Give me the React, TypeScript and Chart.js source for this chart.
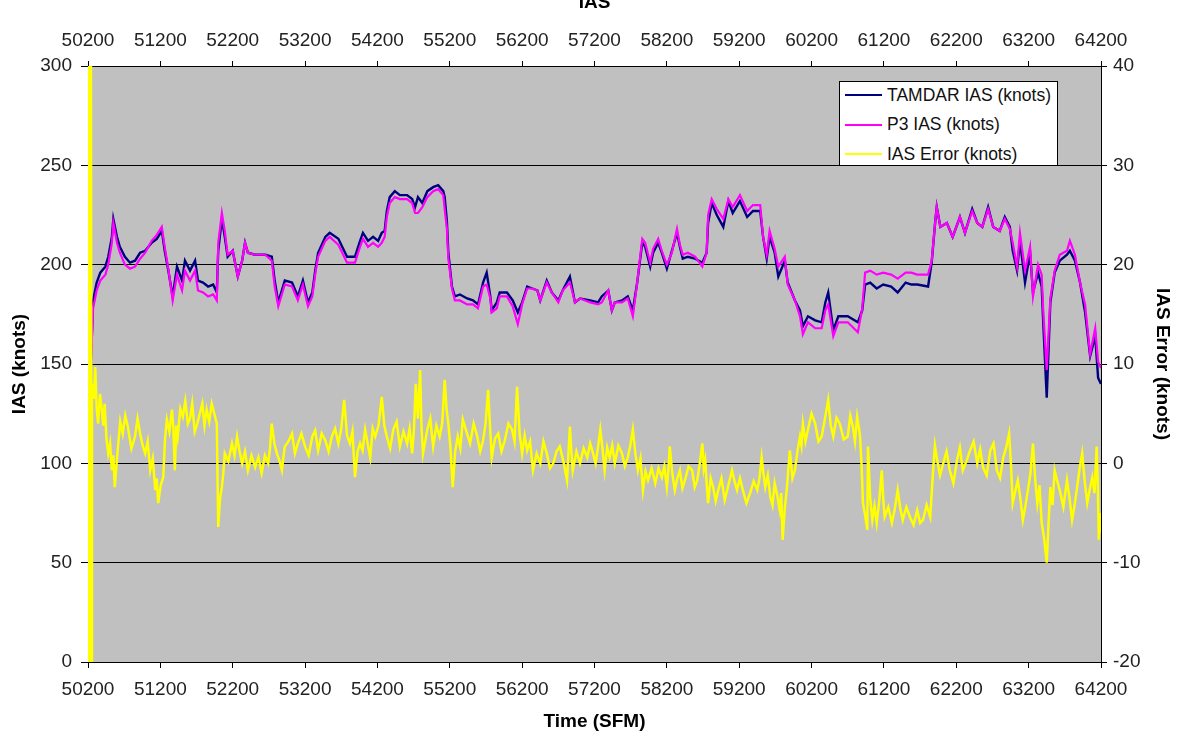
import React, { useEffect, useRef } from 'react';
import { Chart, registerables } from 'chart.js';

Chart.register(...registerables);

// Time (SFM) for the IAS series
const iasTime = [
  50200, 50210, 50240, 50270, 50320, 50370, 50440, 50480, 50530, 50550, 50600, 50640, 50710, 50780, 50850, 50920, 50990,
  51080, 51150, 51220, 51260, 51310, 51370, 51430, 51500, 51540, 51610, 51680, 51720, 51790, 51860, 51930, 51980,
  52000, 52050, 52090, 52130, 52200, 52270, 52330, 52370, 52410, 52510, 52650, 52740, 52780, 52830, 52920,
  53020, 53100, 53170, 53240, 53300, 53340, 53380, 53480, 53540, 53660, 53780, 53890, 53960,
  54000, 54070, 54140, 54210, 54260, 54300, 54330, 54370, 54440, 54510, 54610, 54680, 54720, 54760, 54820, 54890, 54970,
  55040, 55110, 55130, 55160, 55180, 55230, 55270, 55340, 55440, 55520, 55590, 55660, 55710, 55760, 55780, 55850, 55890, 55990,
  56070, 56140, 56200, 56270, 56340, 56410, 56450, 56540, 56610, 56700, 56760, 56860, 56930,
  57000, 57140, 57250, 57300, 57390, 57440, 57480, 57580, 57660, 57730, 57790, 57860, 57900, 57970,
  58010, 58080, 58130, 58200, 58270, 58340, 58380, 58420, 58490, 58590, 58690, 58750, 58770, 58820, 58890, 58980,
  59050, 59110, 59210, 59310, 59390, 59490, 59530, 59580, 59620, 59690, 59740, 59830, 59870, 59970,
  60040, 60080, 60150, 60250, 60340, 60390, 60430, 60500, 60570, 60700, 60840, 60900, 60940,
  61010, 61100, 61190, 61300, 61390, 61500, 61580, 61660, 61810, 61860, 61910, 61930, 61980,
  62070, 62150, 62250, 62320, 62420, 62490, 62560, 62640, 62710, 62800, 62870, 62940, 62980,
  63040, 63080, 63150, 63220, 63260, 63330, 63380, 63400, 63450, 63500, 63560, 63630, 63730, 63770, 63840, 63910, 63980,
  64050, 64120, 64160, 64200,
];

const tamdarIas = [
  0, 73, 150, 182, 191, 196, 199, 204, 214, 223, 214, 209, 204, 201, 202, 206, 207,
  211, 213, 217, 207, 197, 184, 199, 192, 202, 197, 202, 192, 191, 189, 190, 186,
  207, 223, 214, 204, 207, 194, 202, 211, 206, 205, 205, 204, 192, 181, 192,
  191, 184, 192, 181, 186, 197, 206, 214, 216, 213, 204, 204, 212,
  216, 212, 214, 212, 216, 217, 227, 234, 237, 235, 235, 233, 229, 234, 231, 237, 239,
  240, 237, 234, 222, 206, 189, 184, 185, 183, 182, 180, 191, 196, 184, 177, 181, 186, 186,
  182, 176, 181, 189, 188, 187, 182, 192, 186, 182, 187, 194, 181,
  183, 182, 181, 184, 187, 177, 181, 182, 184, 177, 191, 211, 209, 199,
  206, 211, 206, 198, 207, 216, 209, 203, 204, 203, 201, 206, 221, 231, 225, 219,
  232, 226, 232, 224, 227, 227, 214, 203, 214, 206, 194, 202, 191, 182,
  177, 169, 174, 172, 171, 181, 186, 167, 174, 174, 171, 177, 190,
  191, 188, 190, 189, 186, 191, 190, 190, 189, 201, 222, 229, 219,
  221, 214, 224, 216, 228, 221, 219, 229, 219, 217, 224, 219, 207,
  197, 212, 191, 206, 186, 196, 189, 172, 133, 181, 196, 202, 205, 207, 202, 191, 176,
  154, 164, 143, 140,
];

const p3Ias = [
  0, 73, 150, 178, 187, 192, 195, 200, 211, 221, 211, 206, 200, 198, 199, 203, 206,
  212, 215, 219, 209, 198, 182, 195, 187, 197, 192, 197, 187, 186, 184, 185, 182,
  211, 226, 217, 205, 207, 194, 202, 211, 206, 205, 205, 202, 189, 179, 190,
  189, 182, 190, 179, 184, 195, 204, 212, 214, 210, 201, 201, 209,
  213, 209, 211, 209, 211, 214, 224, 231, 234, 233, 233, 231, 226, 226, 229, 234, 237,
  238, 235, 228, 218, 203, 188, 182, 182, 180, 180, 178, 189, 190, 183, 176, 178, 184, 184,
  179, 170, 180, 188, 188, 187, 182, 191, 186, 181, 187, 191, 181,
  183, 181, 180, 181, 187, 177, 181, 181, 183, 174, 191, 213, 211, 201,
  208, 213, 207, 200, 206, 218, 210, 205, 206, 204, 199, 206, 225, 233, 228, 223,
  233, 229, 235, 227, 230, 230, 214, 205, 217, 208, 199, 204, 190, 182,
  174, 165, 171, 168, 168, 177, 180, 164, 171, 171, 166, 178, 196,
  197, 195, 196, 195, 193, 196, 196, 195, 195, 202, 222, 229, 219,
  221, 214, 224, 216, 227, 221, 219, 228, 219, 217, 223, 218, 211,
  199, 216, 197, 209, 184, 200, 195, 178, 147, 183, 197, 205, 207, 212, 205, 191, 180,
  155, 168, 151, 148,
];

// Time (SFM) for the IAS error series
const errTime = [
  50200, 50210, 50220, 50230, 50240, 50250,
  50255, 50260, 50280, 50300, 50320, 50340, 50365, 50390, 50410, 50430, 50455, 50480, 50505, 50530, 50550, 50570, 50590, 50610,
  50645, 50680, 50715, 50750, 50800, 50850, 50885, 50920, 50955, 50990, 51025, 51060, 51095, 51130, 51150, 51170, 51205, 51240,
  51265, 51290, 51325, 51360, 51380, 51400, 51420, 51440, 51475, 51510, 51545, 51580, 51610, 51640, 51675, 51710, 51745, 51780,
  51810, 51840, 51875, 51910, 51945, 51980,
  52000, 52025, 52050, 52070, 52090, 52140, 52190, 52225, 52260, 52295, 52330, 52370, 52410, 52460, 52510, 52555, 52600, 52645,
  52690, 52715, 52740, 52775, 52810, 52845, 52880, 52900, 52920, 52970,
  53020, 53060, 53100, 53150, 53200, 53250, 53300, 53340, 53380, 53430, 53480, 53525, 53570, 53615, 53660, 53700, 53740, 53780,
  53820, 53855, 53890, 53925, 53960, 53995,
  54030, 54065, 54100, 54135, 54170, 54215, 54260, 54295, 54330, 54375, 54420, 54465, 54510, 54560, 54610, 54645, 54680, 54705,
  54730, 54760, 54790, 54810, 54830, 54860, 54890, 54930, 54970,
  55015, 55060, 55095, 55130, 55155, 55180, 55210, 55240, 55275, 55310, 55345, 55380, 55430, 55480, 55530, 55580, 55620, 55660,
  55695, 55730, 55755, 55780, 55825, 55870, 55915, 55960,
  56010, 56060, 56095, 56130, 56165, 56200, 56235, 56270, 56310, 56350, 56400, 56450, 56495, 56540, 56585, 56630, 56675, 56720,
  56770, 56820, 56840, 56860, 56880, 56900, 56950,
  57000, 57050, 57100, 57140, 57180, 57215, 57250, 57280, 57310, 57340, 57375, 57410, 57445, 57480, 57530, 57580, 57620, 57660,
  57695, 57730, 57765, 57800, 57835, 57870, 57905, 57940, 57990,
  58040, 58085, 58130, 58165, 58200, 58220, 58240, 58275, 58310, 58345, 58380, 58415, 58450, 58500, 58550, 58585, 58620, 58655,
  58690, 58710, 58730, 58750, 58770, 58805, 58840, 58875, 58910, 58955,
  59000, 59050, 59100, 59135, 59170, 59210, 59250, 59300, 59350, 59400, 59450, 59480, 59510, 59535, 59560, 59595, 59630, 59660,
  59690, 59725, 59760, 59780, 59800, 59830, 59860, 59880, 59900, 59935, 59970,
  60005, 60040, 60060, 60080, 60115, 60150, 60200, 60250, 60295, 60340, 60385, 60430, 60465, 60500, 60545, 60590, 60645, 60700,
  60735, 60770, 60800, 60830, 60850, 60870, 60890, 60910, 60940, 60970, 60980,
  61010, 61040, 61070, 61100, 61135, 61170, 61190, 61210, 61260, 61310, 61350, 61390, 61425, 61460, 61510, 61560, 61610, 61660,
  61700, 61740, 61790, 61840, 61860, 61880, 61905, 61930, 61975,
  62020, 62065, 62110, 62160, 62210, 62250, 62290, 62340, 62390, 62440, 62490, 62530, 62570, 62620, 62670, 62715, 62760, 62805,
  62850, 62890, 62930, 62955, 62980,
  63015, 63050, 63085, 63120, 63155, 63190, 63225, 63260, 63290, 63320, 63350, 63380, 63415, 63450, 63475, 63500, 63530, 63560,
  63595, 63630, 63680, 63730, 63765, 63800, 63835, 63870, 63905, 63940, 63975,
  64010, 64045, 64080, 64110, 64140, 64155, 64170, 64185, 64200,
];

const iasError = [
  45, -25, 45, -25, 45, -25,
  6, 8, 6.5, 9.7, 5.5, 4, 7, 5.4, 3.8, 6, 2.5, 1, 2, -0.7, 0.8, -2.4, -0.5, 1.3,
  4.2, 3, 4.8, 3.7, 1.5, 2.7, 4.5, 3, 1.8, 1, 2.2, -0.7, 0.5, -2.7, -1.5, -4, -2.2, -1.4,
  2.5, 4.4, 3.2, 5.4, 3.5, -0.7, 3.8, 2.7, 5.5, 4.7, 6.3, 4, 4.5, 6, 3.2, 4, 5, 6,
  3.8, 5.4, 4.2, 6, 5, 4,
  -6.4, -3.5, -2.4, -1, 1, 0.2, 2, 0.8, 2.7, 1.2, 0, 1.2, -0.7, 0.8, -0.4, 0.6, -1, 0.8,
  0, 1.5, 4, 2, 1, 0.3, -0.7, 0.6, 1.7, 2.2,
  3, 1, 2, 3, 1.7, 0.8, 2.7, 3.3, 1.3, 3, 2.3, 1.2, 2.7, 3.5, 2, 3.5, 6.4, 2.8,
  2, 3.2, -1.4, 1.2, 2, 1.3,
  3.4, 2, 0.6, 3.5, 2.7, 3.8, 6.7, 3.8, 2.7, 1.5, 3.4, 4.2, 1.7, 3.2, 2, 3.5, 1, 3.5,
  8, 4.5, 9.4, 3.5, 1, 2.2, 3.4, 4.5, 1.7,
  3.8, 2.7, 4, 8.4, 5.5, 4, 1.5, -2.4, 1.2, 2.7, 1.5, 4.4, 3.2, 2, 4, 2.7, 1.2, 2.3,
  4, 7.4, 3.8, 0.6, 2.5, 3, 1.2, 2.3,
  4, 3.4, 2.2, 7.7, 3, 1, 2.8, 1.3, 2.2, -0.7, 1, 0, 2.2, 1, -0.5, 0, 1.2, 1.7,
  0.2, -1.7, 1, 3.7, 1.2, -0.7, 1.2,
  0, 1.5, 0.6, 2, 1, 0, 1.7, 3.4, 1.5, -0.7, 1.6, 0.6, 1.8, 0, 1.8, 1, -0.3, 0.6,
  1.8, 3.4, 1, -0.7, 0.5, -2.7, -0.8, -1.7, -0.5,
  -2, -0.5, -1.4, -0.3, -2.4, -0.8, 1.7, -1, -2.7, -1.5, -0.7, -2.5, -1.7, -0.3, -0.7, -2.4, -1.7, 0,
  2, -0.5, 0.3, -2, -4, -1.5, -2.4, -3.8, -2.7, -1.5,
  -3.7, -2.2, -0.7, -1.8, -2.7, -1.5, -2.7, -4, -3, -1.8, -2.7, -1.5, 0.6, -1, -2.4, -1.2, -3.4, -4.2,
  -2, -3.2, -4.7, -3, -7.7, -4.5, -2.4, -0.5, 1.3, -1.5, -0.7,
  1.2, 2.7, 1.8, 4, 2.2, 3.4, 5, 4, 2.2, 2.7, 4.5, 6.4, 3.8, 2.7, 4.6, 4, 2.4, 2.7,
  4.8, 3.7, 2.2, 4.7, 3.8, 2.7, 0, -4, -5.2, -6.7, 1.7,
  -3.5, -5.7, -4.3, -6, -3.8, -0.7, -3.5, -5.4, -4.4, -6, -4.6, -2.7, -4.5, -5.7, -4.4, -5.4, -6.2, -4.7,
  -6, -5.7, -4.2, -5.4, -3, -0.7, 1.8, 0.6, -1.2,
  0, 1.2, -0.7, -2, 0.3, 1.6, -0.7, 0.2, 1.3, 2.2, 0, 1.4, -0.4, -1.2, 1.3, 2, -0.7, -1.5,
  0.6, 1.6, 3, 0, -4,
  -2.8, -1.7, -3.5, -5.7, -4.3, -2.7, -1, 2, -1.6, -4, -2.2, -6, -7.6, -10, -6, -2.4, -4.2, -0.7,
  -1.8, -2.7, -4.4, -1.7, -3.5, -5.7, -4.2, -2.4, -0.5, 1, -1.8,
  -4, -2.6, -1.4, -3, 1.7, -2, -7.7, -5, -7,
];

const xTickValues = [50200, 51200, 52200, 53200, 54200, 55200, 56200, 57200, 58200, 59200, 60200, 61200, 62200, 63200, 64200];

const legendItems = [
  { label: 'TAMDAR IAS (knots)', color: '#000080' },
  { label: 'P3 IAS (knots)', color: '#ff00ff' },
  { label: 'IAS Error (knots)', color: '#ffff00' },
];

const FONT = "Arial, 'Liberation Sans', sans-serif";

const plotBg = {
  id: 'plotBg',
  beforeDraw(chart: any) {
    const { ctx, chartArea: a } = chart;
    ctx.save();
    ctx.fillStyle = '#c0c0c0';
    ctx.fillRect(a.left, a.top, a.right - a.left, a.bottom - a.top);
    ctx.restore();
  },
};

export default function App() {
  const ref = useRef<HTMLCanvasElement | null>(null);

  useEffect(() => {
    if (!ref.current) return;
    const setXTicks = (scale: any) => {
      scale.ticks = xTickValues.map((v) => ({ value: v }));
    };
    const tickFont = { family: FONT, size: 19 };
    const titleFont = { family: FONT, size: 19, weight: 'bold' as const };
    const chart = new Chart(ref.current, {
      type: 'line',
      data: {
        datasets: [
          {
            label: 'IAS Error (knots)',
            data: errTime.map((t, i) => ({ x: t, y: iasError[i] })),
            borderColor: '#ffff00',
            borderWidth: 2.5,
            pointRadius: 0,
            yAxisID: 'y1',
            xAxisID: 'x',
            order: 0,
          },
          {
            label: 'P3 IAS (knots)',
            data: iasTime.map((t, i) => ({ x: t, y: p3Ias[i] })),
            borderColor: '#ff00ff',
            borderWidth: 2.2,
            pointRadius: 0,
            yAxisID: 'y',
            xAxisID: 'x',
            order: 1,
          },
          {
            label: 'TAMDAR IAS (knots)',
            data: iasTime.map((t, i) => ({ x: t, y: tamdarIas[i] })),
            borderColor: '#000080',
            borderWidth: 2.4,
            pointRadius: 0,
            yAxisID: 'y',
            xAxisID: 'x',
            order: 2,
          },
        ],
      },
      options: {
        animation: false,
        responsive: false,
        devicePixelRatio: 1,
        layout: { padding: 0 },
        plugins: {
          legend: { display: false },
          tooltip: { enabled: false },
        },
        scales: {
          x: {
            type: 'linear',
            position: 'bottom',
            min: 50200,
            max: 64200,
            afterBuildTicks: setXTicks,
            afterFit: (s: any) => { s.height = 74; },
            grid: { drawOnChartArea: false, color: '#000', tickLength: 6 },
            border: { display: true, color: '#000', width: 1 },
            ticks: { font: tickFont, color: '#222', padding: 10, maxRotation: 0, autoSkip: false, callback: (v: any) => String(v) },
            title: { display: true, text: 'Time (SFM)', font: titleFont, color: '#000', padding: { top: 0, bottom: 3 } },
          },
          x2: {
            type: 'linear',
            position: 'top',
            min: 50200,
            max: 64200,
            afterBuildTicks: setXTicks,
            afterFit: (s: any) => { s.height = 66; },
            grid: { drawOnChartArea: false, color: '#000', tickLength: 5 },
            border: { display: true, color: '#000', width: 1 },
            ticks: { font: tickFont, color: '#222', padding: 9, maxRotation: 0, autoSkip: false, callback: (v: any) => String(v) },
            title: { display: true, text: 'IAS', font: titleFont, color: '#000', padding: { top: -9, bottom: 0 } },
          },
          y: {
            type: 'linear',
            position: 'left',
            min: 0,
            max: 300,
            afterFit: (s: any) => { s.width = 88; },
            grid: { color: '#000', lineWidth: 1, tickLength: 7 },
            border: { display: true, color: '#000', width: 1 },
            ticks: { stepSize: 50, font: tickFont, color: '#222', padding: 9 },
            title: { display: true, text: 'IAS (knots)', font: titleFont, color: '#000', padding: { top: 8, bottom: 0 } },
          },
          y1: {
            type: 'linear',
            position: 'right',
            min: -20,
            max: 40,
            afterFit: (s: any) => { s.width = 77; },
            grid: { drawOnChartArea: false, color: '#000', tickLength: 6 },
            border: { display: true, color: '#000', width: 1 },
            ticks: { stepSize: 10, font: tickFont, color: '#222', padding: 6 },
            title: { display: true, text: 'IAS Error (knots)', font: titleFont, color: '#000', padding: { top: 4, bottom: 0 } },
          },
        },
      },
      plugins: [plotBg],
    });
    return () => chart.destroy();
  }, []);

  return (
    <div style={{ position: 'absolute', left: 0, top: 0, width: 1178, height: 736, background: '#fff' }}>
      <canvas ref={ref} width={1178} height={736} style={{ display: 'block' }} />
      <div
        style={{
          position: 'absolute',
          left: 839,
          top: 81,
          width: 219,
          height: 85,
          boxSizing: 'border-box',
          background: '#fff',
          border: '1px solid #000',
          fontFamily: FONT,
          fontSize: 17.5,
          color: '#111',
        }}
      >
        {legendItems.map((it, i) => (
          <div key={it.label} style={{ position: 'absolute', left: 5, top: 1 + i * 29.5, height: 24, display: 'flex', alignItems: 'center' }}>
            <div style={{ width: 37, height: 2, background: it.color }} />
            <span style={{ marginLeft: 5, whiteSpace: 'nowrap' }}>{it.label}</span>
          </div>
        ))}
      </div>
    </div>
  );
}
